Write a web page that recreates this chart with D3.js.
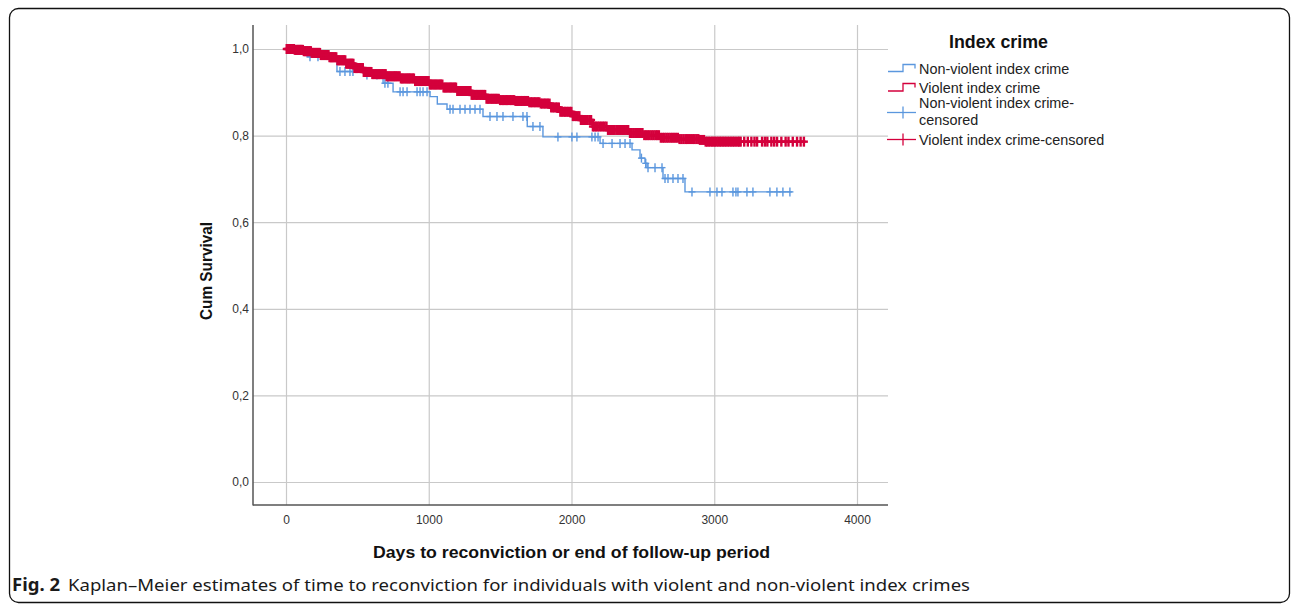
<!DOCTYPE html>
<html><head><meta charset="utf-8">
<script src="https://cdn.jsdelivr.net/npm/d3@7"></script>
<style>body{margin:0;background:#fff;} svg{display:block;}</style>
</head><body>
<svg id="chart" width="1292" height="605"></svg>
<script>
const xTicks = [0, 1000, 2000, 3000, 4000];
const yTicks = [0, 0.2, 0.4, 0.6, 0.8, 1.0];
const yTickLabels = ["0,0", "0,2", "0,4", "0,6", "0,8", "1,0"];

// Violent index crime: event days and survival after each step
const violentDays = [0, 60, 120, 180, 240, 300, 360, 420, 480, 540, 600, 700, 800, 900, 1000, 1100, 1200, 1300, 1400, 1500, 1600, 1700, 1780, 1850, 1920, 2000, 2060, 2150, 2250, 2400, 2500, 2620, 2750, 2900, 2930];
const violentSurv = [1.0, 0.998, 0.995, 0.991, 0.986, 0.981, 0.974, 0.966, 0.956, 0.947, 0.942, 0.937, 0.932, 0.926, 0.918, 0.911, 0.903, 0.894, 0.885, 0.882, 0.880, 0.877, 0.874, 0.865, 0.855, 0.845, 0.836, 0.821, 0.813, 0.806, 0.801, 0.795, 0.792, 0.790, 0.786];
const violentEnd = 3640;
const violentCensored = [5, 12, 18, 25, 30, 36, 42, 48, 55, 62, 70, 77, 84, 90, 97, 104, 110, 118, 125, 132, 140, 146, 152, 160, 168, 174, 180, 188, 195, 202, 210, 217, 224, 231, 238, 244, 250, 258, 265, 272, 280, 286, 292, 298, 305, 312, 318, 324, 330, 338, 345, 352, 360, 366, 372, 380, 388, 395, 402, 408, 415, 422, 430, 438, 445, 452, 458, 465, 472, 480, 488, 494, 500, 508, 515, 522, 530, 538, 545, 552, 560, 568, 575, 582, 590, 598, 605, 613, 622, 631, 640, 648, 655, 663, 672, 681, 690, 698, 705, 712, 720, 729, 738, 746, 755, 762, 770, 779, 788, 796, 805, 812, 820, 829, 838, 846, 855, 862, 870, 879, 888, 896, 905, 912, 920, 929, 938, 946, 955, 963, 972, 981, 990, 999, 1008, 1016, 1025, 1034, 1042, 1051, 1060, 1069, 1078, 1086, 1095, 1104, 1112, 1121, 1130, 1139, 1148, 1156, 1165, 1174, 1182, 1191, 1200, 1210, 1220, 1229, 1238, 1246, 1255, 1265, 1275, 1284, 1292, 1301, 1310, 1320, 1330, 1339, 1348, 1358, 1368, 1376, 1385, 1395, 1405, 1415, 1425, 1435, 1445, 1453, 1462, 1471, 1480, 1490, 1500, 1510, 1520, 1530, 1540, 1549, 1558, 1568, 1578, 1588, 1598, 1608, 1618, 1627, 1636, 1645, 1655, 1665, 1675, 1685, 1695, 1705, 1715, 1725, 1735, 1745, 1755, 1765, 1775, 1785, 1795, 1805, 1815, 1825, 1835, 1846, 1858, 1869, 1880, 1890, 1900, 1911, 1922, 1933, 1945, 1955, 1965, 1976, 1988, 1999, 2010, 2021, 2032, 2043, 2055, 2066, 2078, 2089, 2100, 2112, 2125, 2137, 2150, 2161, 2172, 2183, 2195, 2207, 2220, 2232, 2245, 2256, 2268, 2279, 2290, 2302, 2315, 2327, 2340, 2351, 2362, 2373, 2385, 2397, 2410, 2422, 2435, 2447, 2460, 2472, 2485, 2497, 2510, 2522, 2535, 2548, 2562, 2575, 2588, 2600, 2612, 2626, 2640, 2652, 2665, 2678, 2692, 2705, 2718, 2731, 2745, 2757, 2770, 2784, 2798, 2810, 2822, 2836, 2850, 2862, 2875, 2888, 2900, 2915, 2928, 2940, 2951, 2962, 2974, 2985, 2995, 3005, 3016, 3028, 3039, 3050, 3061, 3072, 3083, 3095, 3106, 3118, 3129, 3140, 3152, 3165, 3175, 3185, 3210, 3235, 3260, 3282, 3300, 3335, 3355, 3372, 3400, 3420, 3440, 3470, 3500, 3520, 3550, 3580, 3605, 3628];

// Non-violent index crime
const nonViolentDays = [0, 80, 150, 357, 560, 680, 750, 1009, 1060, 1128, 1380, 1690, 1800, 2200, 2424, 2480, 2515, 2529, 2641, 2795];
const nonViolentSurv = [1.0, 0.993, 0.982, 0.948, 0.940, 0.921, 0.901, 0.890, 0.873, 0.861, 0.844, 0.821, 0.797, 0.782, 0.767, 0.748, 0.736, 0.726, 0.701, 0.670];
const nonViolentEnd = 3545;
const nonViolentCensored = [168, 224, 308, 378, 413, 448, 469, 567, 637, 693, 714, 799, 820, 848, 918, 939, 960, 988, 1149, 1170, 1219, 1254, 1289, 1324, 1359, 1429, 1478, 1520, 1590, 1660, 1688, 1730, 1779, 1905, 2003, 2038, 2143, 2165, 2186, 2221, 2284, 2340, 2375, 2410, 2490, 2520, 2536, 2585, 2634, 2655, 2676, 2711, 2746, 2781, 2844, 2970, 3019, 3054, 3131, 3152, 3166, 3229, 3271, 3390, 3439, 3481, 3530];

const legendLabels = ["Non-violent index crime", "Violent index crime", ["Non-violent index crime-", "censored"], "Violent index crime-censored"];

const BLUE = "#5b97de", RED = "#d4003c";
const FONT = "Liberation Sans, Arial, sans-serif";

const svg = d3.select("#chart");

// outer frame
svg.append("rect").attr("x", 9.5).attr("y", 8.5).attr("width", 1280).attr("height", 594)
  .attr("rx", 9).attr("fill", "none").attr("stroke", "#111").attr("stroke-width", 1.3);

const x = d3.scaleLinear().domain([0, 4000]).range([286, 857]);
const y = d3.scaleLinear().domain([0, 1]).range([482, 49]);
const L = 253, R = 888, T = 25, B = 505;

const grid = svg.append("g");
grid.selectAll("line.h").data(yTicks).join("line")
  .attr("x1", L).attr("x2", R).attr("y1", d => y(d) + 0.5).attr("y2", d => y(d) + 0.5)
  .attr("stroke", "#c9c9c9").attr("stroke-width", 1.2);
grid.selectAll("line.v").data(xTicks).join("line")
  .attr("x1", d => x(d) + 0.5).attr("x2", d => x(d) + 0.5).attr("y1", T).attr("y2", B)
  .attr("stroke", "#c9c9c9").attr("stroke-width", 1.2);

// axes
const xAxis = d3.axisBottom(x).tickValues(xTicks).tickSize(0).tickPadding(10).tickFormat(d3.format("d"));
const gx = svg.append("g").attr("transform", `translate(0,${B})`).call(xAxis);
gx.select(".domain").remove();
gx.selectAll("text").attr("font-family", FONT).attr("font-size", 12).attr("fill", "#333");

const yAxis = d3.axisLeft(y).tickValues(yTicks).tickSize(0).tickPadding(4).tickFormat((d, i) => yTickLabels[i]);
const gy = svg.append("g").attr("transform", `translate(${L},0)`).call(yAxis);
gy.select(".domain").remove();
gy.selectAll("text").attr("font-family", FONT).attr("font-size", 12).attr("fill", "#333");

svg.append("line").attr("x1", L).attr("x2", L).attr("y1", T).attr("y2", B + 0.5).attr("stroke", "#555").attr("stroke-width", 1.5);
svg.append("line").attr("x1", L).attr("x2", R).attr("y1", B).attr("y2", B).attr("stroke", "#555").attr("stroke-width", 1.5);

// axis titles
svg.append("text").attr("transform", "translate(212,271) rotate(-90)").attr("text-anchor", "middle")
  .attr("font-family", FONT).attr("font-size", 16.5).attr("font-weight", "bold")
  .attr("fill", "#111").attr("textLength", 98).attr("lengthAdjust", "spacingAndGlyphs").text("Cum Survival");
svg.append("text").attr("x", 571.5).attr("y", 558).attr("text-anchor", "middle")
  .attr("font-family", FONT).attr("font-size", 17).attr("font-weight", "bold")
  .attr("fill", "#111").attr("textLength", 397).attr("lengthAdjust", "spacingAndGlyphs")
  .text("Days to reconviction or end of follow-up period");

// KM step paths
function kmPoints(days, surv, end) {
  const pts = [];
  days.forEach((d, i) => {
    if (i > 0) pts.push([d, surv[i - 1]]);
    pts.push([d, surv[i]]);
  });
  pts.push([end, surv[surv.length - 1]]);
  return pts;
}
function survAt(days, surv, t) {
  let s = surv[0];
  for (let i = 0; i < days.length; i++) if (days[i] <= t) s = surv[i];
  return s;
}
const line = d3.line().x(d => x(d[0])).y(d => y(d[1]));

function drawSeries(days, surv, end, cens, color, lw, mw, ch, cw) {
  const g = svg.append("g");
  g.append("path").attr("d", line(kmPoints(days, surv, end))).attr("fill", "none")
    .attr("stroke", color).attr("stroke-width", lw);
  const marks = g.selectAll("g.m").data(cens).join("g")
    .attr("transform", d => `translate(${x(d)},${y(survAt(days, surv, d))})`);
  marks.append("line").attr("x1", 0).attr("x2", 0).attr("y1", -ch).attr("y2", ch).attr("stroke", color).attr("stroke-width", mw);
  marks.append("line").attr("x1", -cw).attr("x2", cw).attr("y1", 0).attr("y2", 0).attr("stroke", color).attr("stroke-width", mw);
}
drawSeries(nonViolentDays, nonViolentSurv, nonViolentEnd, nonViolentCensored, BLUE, 1.4, 1.4, 4.5, 3.5);
drawSeries(violentDays, violentSurv, violentEnd, violentCensored, RED, 2.4, 2.4, 5, 4);

// legend
const lg = svg.append("g");
lg.append("text").attr("x", 998.5).attr("y", 48).attr("text-anchor", "middle")
  .attr("font-family", FONT).attr("font-size", 17.5).attr("font-weight", "bold")
  .attr("fill", "#111").attr("textLength", 99).attr("lengthAdjust", "spacingAndGlyphs").text("Index crime");
const legFont = (s) => s.attr("font-family", FONT).attr("font-size", 14.4).attr("fill", "#222");
// row 1 & 2: step symbols
[[BLUE, 71.5, 64.5, 74, legendLabels[0]], [RED, 91, 83.5, 93, legendLabels[1]]].forEach(([c, lo, hi, ty, lab]) => {
  lg.append("path").attr("d", `M888,${lo}H903V${hi}H915V${hi + 4}`).attr("fill", "none").attr("stroke", c).attr("stroke-width", 1.3);
  legFont(lg.append("text").attr("x", 919).attr("y", ty)).text(lab);
});
// row 3 & 4: censor symbols
[[BLUE, 112.5, legendLabels[2]], [RED, 139.5, legendLabels[3]]].forEach(([c, yy, lab]) => {
  lg.append("line").attr("x1", 887).attr("x2", 916).attr("y1", yy).attr("y2", yy).attr("stroke", c).attr("stroke-width", 1.3);
  lg.append("line").attr("x1", 903).attr("x2", 903).attr("y1", yy - 6).attr("y2", yy + 6).attr("stroke", c).attr("stroke-width", 1.3);
  if (Array.isArray(lab)) {
    legFont(lg.append("text").attr("x", 919).attr("y", 108)).text(lab[0]);
    legFont(lg.append("text").attr("x", 919).attr("y", 125)).text(lab[1]);
  } else {
    legFont(lg.append("text").attr("x", 919).attr("y", 144.5)).text(lab);
  }
});

// caption
svg.append("text").attr("x", 12).attr("y", 591).attr("font-family", "Liberation Sans Narrow, Noto Sans, sans-serif")
  .attr("font-size", 17).attr("font-weight", "bold").attr("fill", "#1a1a1a")
  .attr("textLength", 48).attr("lengthAdjust", "spacingAndGlyphs").text("Fig. 2");
svg.append("text").attr("x", 68).attr("y", 591).attr("font-family", "Liberation Sans Narrow, Noto Sans, sans-serif")
  .attr("font-size", 17).attr("fill", "#1a1a1a")
  .attr("textLength", 902).attr("lengthAdjust", "spacingAndGlyphs")
  .text("Kaplan–Meier estimates of time to reconviction for individuals with violent and non-violent index crimes");
</script>
</body></html>
